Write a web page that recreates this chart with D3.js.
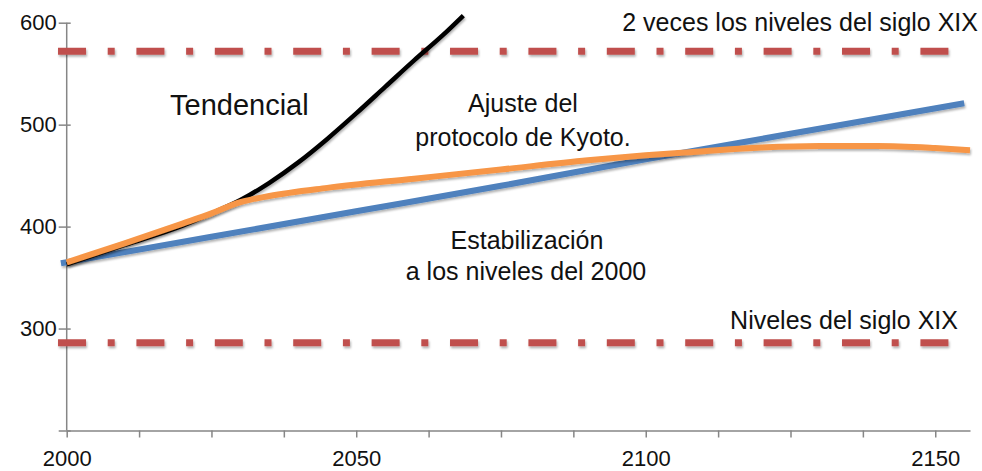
<!DOCTYPE html>
<html>
<head>
<meta charset="utf-8">
<script src="https://cdn.jsdelivr.net/npm/d3@7"></script>
<style>
  body { margin: 0; background: #fff; }
  svg { display: block; font-family: "Liberation Sans", Arial, sans-serif; }
</style>
</head>
<body>
<svg id="chart" width="982" height="471"></svg>
<script>
// data (ppm CO2 by year)
const blueYears = [1999, 2025, 2050, 2075, 2100, 2125, 2155];
const blueValues = [364, 390, 415, 440, 466, 491, 521];

const orangeYears = [2000, 2010, 2020, 2025, 2030, 2035, 2045, 2060, 2075, 2090, 2100, 2110, 2120, 2130, 2140, 2150, 2156];
const orangeValues = [365, 383.5, 403, 413, 424, 430, 438, 447, 456, 465, 470, 474, 477.5, 479, 479, 477, 475];

const blackYears = [2000, 2010, 2020, 2025, 2030, 2035, 2040, 2045, 2050, 2055, 2060, 2065, 2068.5];
const blackValues = [363, 382, 401, 413, 426, 443, 463, 486, 511, 537, 563, 588, 607];

const levelValues = [572, 286];
const levelLabels = ["2 veces los niveles del siglo XIX", "Niveles del siglo XIX"];

const yTicks = [200, 300, 400, 500, 600];
const xLabelYears = [2000, 2050, 2100, 2150];

const svg = d3.select("#chart");

const x = d3.scaleLinear().domain([2000, 2156]).range([66.7, 970]);
const y = d3.scaleLinear().domain([200, 600]).range([430.5, 22.7]);

// soft shadow like the office chart
const defs = svg.append("defs");
defs.append("filter")
  .attr("id", "shadow")
  .attr("filterUnits", "userSpaceOnUse")
  .attr("x", 0).attr("y", 0).attr("width", 982).attr("height", 471)
  .append("feDropShadow")
  .attr("dx", 1).attr("dy", 2).attr("stdDeviation", 1.2)
  .attr("flood-color", "#000").attr("flood-opacity", 0.3);

const axisColor = "#868686";

// y axis
const yAxis = svg.append("g")
  .attr("transform", `translate(${x(2000)},0)`)
  .call(d3.axisLeft(y).tickValues(yTicks).tickSize(8).tickSizeOuter(0)
    .tickFormat(d => d === 200 ? "" : d));
yAxis.select(".domain").attr("stroke", axisColor).attr("stroke-width", 1.5)
  .attr("d", `M0,${y(200)}V${y(600)}`);
yAxis.selectAll(".tick line").attr("stroke", axisColor).attr("stroke-width", 1.5).attr("x1", 4);
yAxis.selectAll(".tick text")
  .attr("x", -10)
  .attr("font-size", 22)
  .attr("fill", "#111");

// x axis
const xAxis = svg.append("g")
  .attr("transform", `translate(0,${y(200)})`)
  .call(d3.axisBottom(x).tickValues(d3.range(2000, 2151, 12.5)).tickSize(7).tickSizeOuter(0)
    .tickFormat(d => xLabelYears.includes(d) ? d : ""));
xAxis.select(".domain").attr("stroke", axisColor).attr("stroke-width", 1.5);
xAxis.selectAll(".tick line").attr("stroke", axisColor).attr("stroke-width", 1.5);
xAxis.selectAll(".tick text")
  .attr("y", 23)
  .attr("dy", "0.55em")
  .attr("font-size", 22)
  .attr("fill", "#111");

// reference levels
svg.selectAll(".level")
  .data(levelValues)
  .join("line")
  .attr("class", "level")
  .attr("x1", x(1998.5))
  .attr("x2", x(2152.6))
  .attr("y1", d => y(d))
  .attr("y2", d => y(d))
  .attr("stroke", "#c0504d")
  .attr("stroke-width", 7)
  .attr("stroke-dasharray", "28,21.7,7,21.7")
  .attr("filter", "url(#shadow)");

const line = d3.line()
  .x(d => x(d[0]))
  .y(d => y(d[1]))
  .curve(d3.curveMonotoneX);

const series = [
  { years: blueYears, values: blueValues, color: "#4f81bd", width: 6 },
  { years: blackYears, values: blackValues, color: "#000000", width: 4.5 },
  { years: orangeYears, values: orangeValues, color: "#f79646", width: 6 }
];

series.forEach(s => {
  svg.append("path")
    .datum(d3.zip(s.years, s.values))
    .attr("d", line)
    .attr("fill", "none")
    .attr("stroke", s.color)
    .attr("stroke-width", s.width)
    .attr("stroke-linejoin", "round")
    .attr("filter", "url(#shadow)");
});

// annotations
const notes = [
  { text: levelLabels[0], x: 978, y: 31, size: 25, anchor: "end" },
  { text: levelLabels[1], x: 958, y: 329, size: 25, anchor: "end" },
  { text: "Tendencial", x: 170, y: 115, size: 29, anchor: "start" },
  { text: "Ajuste del", x: 523, y: 112, size: 25, anchor: "middle" },
  { text: "protocolo de Kyoto.", x: 523, y: 146, size: 25, anchor: "middle" },
  { text: "Estabilización", x: 527, y: 249, size: 25, anchor: "middle" },
  { text: "a los niveles del 2000", x: 526, y: 280, size: 25, anchor: "middle" }
];

svg.selectAll(".note")
  .data(notes)
  .join("text")
  .attr("class", "note")
  .attr("x", d => d.x)
  .attr("y", d => d.y)
  .attr("font-size", d => d.size)
  .attr("text-anchor", d => d.anchor)
  .attr("fill", "#111")
  .text(d => d.text);
</script>
</body>
</html>
